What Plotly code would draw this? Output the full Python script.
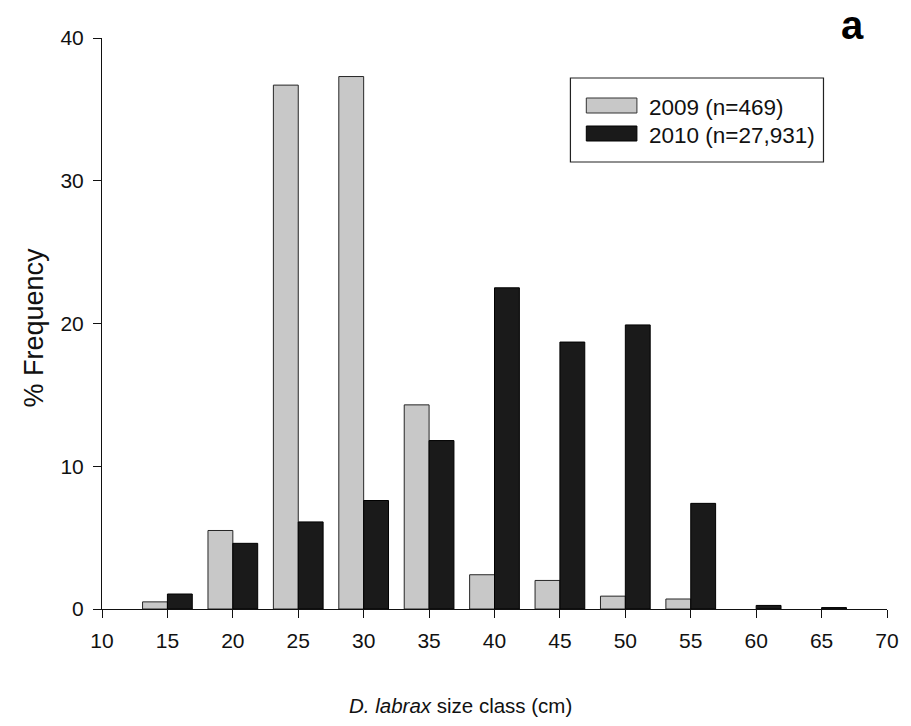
import plotly.graph_objects as go

# Length-frequency of European sea bass, two sampling years
size_class = [15, 20, 25, 30, 35, 40, 45, 50, 55, 60, 65]
freq_2009 = [0.5, 5.5, 36.7, 37.3, 14.3, 2.4, 2.0, 0.9, 0.7, 0.0, 0.0]
freq_2010 = [1.05, 4.6, 6.1, 7.6, 11.8, 22.5, 18.7, 19.9, 7.4, 0.25, 0.1]
series_names = ["2009 (n=469)", "2010 (n=27,931)"]
x_ticks = [10, 15, 20, 25, 30, 35, 40, 45, 50, 55, 60, 65, 70]
y_ticks = [0, 10, 20, 30, 40]

GRAY = "#c8c8c8"
BLACK = "#1a1a1a"
FONT = "Liberation Sans, Arial, sans-serif"
BAR_W = 1.9

# plot-area geometry in pixels
W, H = 911, 726
L, R, T, B = 102, 893, 38, 609


def px(xp):
    return (xp - L) / (R - L)


def py(yp):
    return (B - yp) / (B - T)


def edge_widths(vals, w=1):
    # empty classes get no outline so nothing is drawn on the baseline
    return [w if v > 0 else 0 for v in vals]


fig = go.Figure()
fig.add_trace(go.Bar(
    x=size_class, y=freq_2009, name=series_names[0],
    width=BAR_W, offset=-BAR_W,
    marker=dict(color=GRAY, line=dict(color="#262626", width=edge_widths(freq_2009))),
    showlegend=False,
))
fig.add_trace(go.Bar(
    x=size_class, y=freq_2010, name=series_names[1],
    width=BAR_W, offset=0,
    marker=dict(color=BLACK, line=dict(color="#000000", width=edge_widths(freq_2010))),
    showlegend=False,
))

# legend box drawn by hand to get the wide swatches
shapes = [
    dict(type="rect", xref="paper", yref="paper",
         x0=px(574), x1=px(829), y0=py(162), y1=py(78),
         line=dict(color="#222222", width=1.2), fillcolor="white", layer="above"),
    dict(type="rect", xref="paper", yref="paper",
         x0=px(590), x1=px(641), y0=py(113), y1=py(98),
         line=dict(color="#333333", width=1), fillcolor=GRAY, layer="above"),
    dict(type="rect", xref="paper", yref="paper",
         x0=px(590), x1=px(641), y0=py(141), y1=py(126),
         line=dict(color="#000000", width=1), fillcolor=BLACK, layer="above"),
]

annotations = [
    dict(text=series_names[0], xref="paper", yref="paper", x=px(651), y=py(108),
         xanchor="left", yanchor="middle", showarrow=False,
         font=dict(family=FONT, size=22.5, color="#111111")),
    dict(text=series_names[1], xref="paper", yref="paper", x=px(651), y=py(135),
         xanchor="left", yanchor="middle", showarrow=False,
         font=dict(family=FONT, size=22.5, color="#111111")),
    dict(text="<i>D. labrax</i> size class (cm)", xref="paper", yref="paper",
         x=px(463), y=py(705), xanchor="center", yanchor="middle", showarrow=False,
         font=dict(family=FONT, size=20.5, color="#111111")),
    dict(text="% Frequency", xref="paper", yref="paper", textangle=-90,
         x=px(33), y=py(328), xanchor="center", yanchor="middle", showarrow=False,
         font=dict(family=FONT, size=27, color="#111111")),
    dict(text="<b>a</b>", xref="paper", yref="paper",
         x=px(858), y=py(1), xanchor="center", yanchor="top", showarrow=False,
         font=dict(family=FONT, size=40, color="#000000")),
]

fig.update_layout(
    width=W, height=H,
    margin=dict(l=L, r=W - R, t=T, b=H - B, pad=0),
    paper_bgcolor="white", plot_bgcolor="white",
    barmode="overlay",
    font=dict(family=FONT, size=21, color="#111111"),
    shapes=shapes, annotations=annotations,
    xaxis=dict(range=[10, 70], tickvals=x_ticks, ticks="outside", ticklen=8,
               tickwidth=1, tickcolor="#111111", showline=True, linecolor="#111111",
               linewidth=1, showgrid=False, zeroline=False, fixedrange=True,
               ticklabelstandoff=5),
    yaxis=dict(range=[0, 40], tickvals=y_ticks, ticks="outside", ticklen=8,
               tickwidth=1, tickcolor="#111111", showline=True, linecolor="#111111",
               linewidth=1, showgrid=False, zeroline=False, fixedrange=True,
               ticklabelstandoff=5),
)

fig.write_html("out.html")
